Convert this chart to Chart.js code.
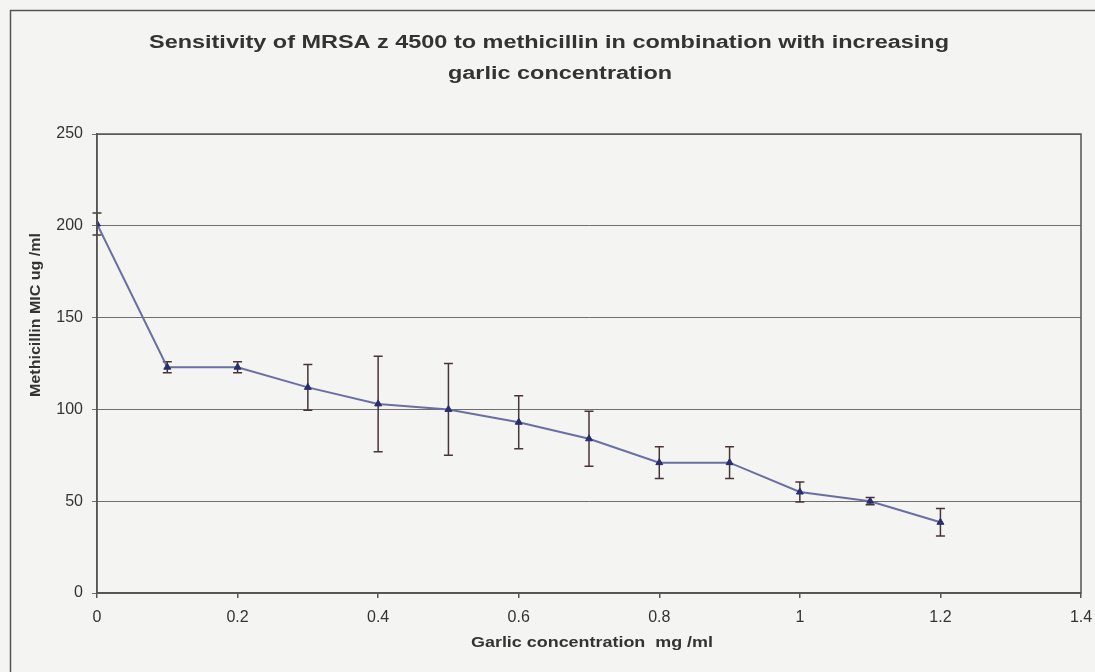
<!DOCTYPE html>
<html>
<head>
<meta charset="utf-8">
<script src="https://cdn.jsdelivr.net/npm/chart.js@4.4.0/dist/chart.umd.min.js"></script>
<style>
html, body { margin: 0; padding: 0; background: #f4f4f2; }
#wrap { width: 1095px; height: 672px; }
</style>
</head>
<body>
<div id="wrap"><canvas id="micChart" width="1095" height="672"></canvas></div>
<script>
'use strict'

// data
let garlic = [0, 0.1, 0.2, 0.3, 0.4, 0.5, 0.6, 0.7, 0.8, 0.9, 1.0, 1.1, 1.2]
let mic = [201, 123, 123, 112, 103, 100, 93, 84, 71, 71, 55, 50, 38.5]
let micErr = [6, 3, 3, 12.5, 26, 25, 14.5, 15, 8.7, 8.7, 5.5, 2, 7.5]

let xTicks = [0, 0.2, 0.4, 0.6, 0.8, 1, 1.2, 1.4]
let yTicks = [0, 50, 100, 150, 200, 250]

let titleLines = ['Sensitivity of MRSA z 4500 to methicillin in combination with increasing', 'garlic concentration']
let xTitle = 'Garlic concentration  mg /ml'
let yTitle = 'Methicillin MIC ug /ml'

let textColor = '#333333'
let fontFamily = '"Liberation Sans", Arial, sans-serif'

// draw text centred on (x, y), stretched sideways to a given width
function wideText(c, text, x, y, width) {
    let natural = c.measureText(text).width
    c.save()
    c.translate(x, y)
    c.scale(width / natural, 1)
    c.fillText(text, 0, 0)
    c.restore()
}

// background, frame, titles
let decorPlugin = {
    id: 'decor',
    beforeDraw(chart) {
        let c = chart.ctx
        c.save()
        c.fillStyle = '#f4f4f2'
        c.fillRect(0, 0, chart.width, chart.height)
        c.strokeStyle = '#555555'
        c.lineWidth = 1.5
        c.strokeRect(10.5, 10.5, chart.width + 20, chart.height + 20)
        c.restore()
    },
    afterDraw(chart) {
        let c = chart.ctx
        let a = chart.chartArea
        c.save()
        // plot border
        c.strokeStyle = '#555555'
        c.lineWidth = 1.5
        c.strokeRect(a.left, a.top, a.right - a.left, a.bottom - a.top)

        c.fillStyle = textColor
        c.textAlign = 'center'
        c.textBaseline = 'middle'
        c.font = 'bold 18px ' + fontFamily
        let stretch = 800 / c.measureText(titleLines[0]).width
        wideText(c, titleLines[0], 549, 43, 800)
        wideText(c, titleLines[1], 560, 74, c.measureText(titleLines[1]).width * stretch)

        c.font = 'bold 14px ' + fontFamily
        wideText(c, xTitle, 592, 643, 242)

        c.translate(36, 315)
        c.rotate(-Math.PI / 2)
        wideText(c, yTitle, 0, 0, 164)
        c.restore()
    }
}

// error bars drawn through the chart's scales
let errorBarPlugin = {
    id: 'errorBars',
    beforeDatasetsDraw(chart) {
        let c = chart.ctx
        let xs = chart.scales.x
        let ys = chart.scales.y
        c.save()
        c.strokeStyle = '#4a3434'
        c.lineWidth = 1.5
        for (let i = 0; i < garlic.length; i++) {
            let px = xs.getPixelForValue(garlic[i])
            let top = ys.getPixelForValue(mic[i] + micErr[i])
            let bot = ys.getPixelForValue(mic[i] - micErr[i])
            c.beginPath()
            c.moveTo(px, top)
            c.lineTo(px, bot)
            c.moveTo(px - 4.5, top)
            c.lineTo(px + 4.5, top)
            c.moveTo(px - 4.5, bot)
            c.lineTo(px + 4.5, bot)
            c.stroke()
        }
        c.restore()
    }
}

let ctx = document.getElementById('micChart').getContext('2d')

let micChart = new Chart(ctx, {
    type: 'line',
    data: {
        datasets: [{
            data: garlic.map((g, i) => ({ x: g, y: mic[i] })),
            borderColor: '#6a6fa2',
            borderWidth: 2,
            pointStyle: 'triangle',
            pointRadius: 4,
            pointBackgroundColor: '#2b2d6e',
            pointBorderColor: '#2b2d6e',
            pointBorderWidth: 1,
            tension: 0
        }]
    },
    options: {
        responsive: false,
        animation: false,
        devicePixelRatio: 1,
        layout: { padding: { top: 134, right: 14, left: 0, bottom: 0 } },
        plugins: {
            legend: { display: false },
            tooltip: { enabled: false }
        },
        scales: {
            x: {
                type: 'linear',
                min: 0,
                max: 1.4,
                afterBuildTicks: (scale) => { scale.ticks = xTicks.map(v => ({ value: v })) },
                afterFit: (scale) => {
                    scale.height = 79
                    scale.paddingLeft = 0
                    scale.paddingRight = 0
                },
                grid: {
                    drawOnChartArea: false,
                    drawTicks: true,
                    tickLength: 5,
                    color: '#555555',
                    lineWidth: 1.5
                },
                border: { color: '#555555', width: 1.5 },
                ticks: {
                    padding: 10,
                    color: textColor,
                    font: { family: fontFamily, size: 16 },
                    maxRotation: 0,
                    callback: v => String(Math.round(v * 10) / 10)
                }
            },
            y: {
                min: 0,
                max: 250,
                afterBuildTicks: (scale) => { scale.ticks = yTicks.map(v => ({ value: v })) },
                afterFit: (scale) => {
                    scale.width = 97
                    scale.paddingTop = 0
                    scale.paddingBottom = 0
                },
                grid: {
                    drawTicks: true,
                    tickLength: 5,
                    color: '#6e6e6e',
                    lineWidth: 1
                },
                border: { color: '#555555', width: 1.5 },
                ticks: {
                    padding: 9,
                    color: textColor,
                    font: { family: fontFamily, size: 16 }
                }
            }
        }
    },
    plugins: [decorPlugin, errorBarPlugin]
})
</script>
</body>
</html>
